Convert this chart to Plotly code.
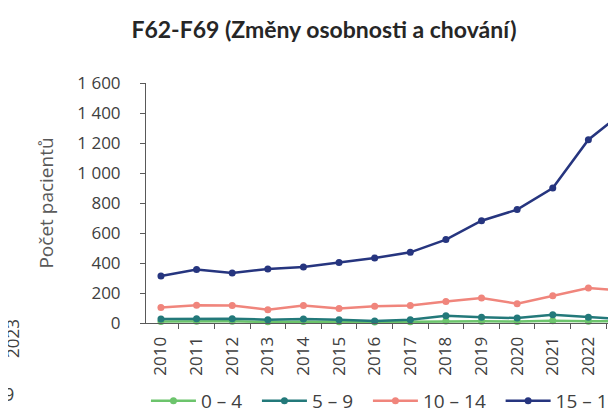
import plotly.graph_objects as go

years = [str(y) for y in range(2010, 2024)]
age_0_4 = [10, 12, 11, 8, 10, 9, 6, 9, 14, 12, 10, 15, 12, 10]
age_5_9 = [27, 29, 29, 22, 27, 22, 13, 22, 48, 38, 33, 55, 38, 25]
age_10_14 = [104, 118, 116, 89, 116, 96, 111, 116, 144, 167, 129, 182, 233, 216]
age_15_19 = [313, 356, 333, 360, 373, 404, 433, 471, 556, 682, 756, 900, 1222, 1411]

series = [
    ('0 – 4', age_0_4, '#6cc46c'),
    ('5 – 9', age_5_9, '#23797a'),
    ('10 – 14', age_10_14, '#f0857c'),
    ('15 – 19', age_15_19, '#26357f'),
]

font_name = 'Open Sans'
text_color = '#404040'
pad = '\u00a0\u00a0'

fig = go.Figure()

for name, values, color in series:
    fig.add_trace(
        go.Scatter(
            x=years,
            y=values,
            name=name + pad,
            mode='lines+markers',
            line=dict(color=color, width=2.5),
            marker=dict(color=color, size=7),
            cliponaxis=False
        )
    )

fig.update_layout(
    width=616,
    height=416,
    margin=dict(l=138, r=0, t=75, b=101, autoexpand=False),
    plot_bgcolor='white',
    paper_bgcolor='white',
    separators=', ',
    font=dict(family=font_name, size=17, color=text_color),
    title=dict(
        text='<b>F62-F69 (Změny osobnosti a chování)</b>',
        xref='container',
        x=316 / 616,
        xanchor='center',
        yref='container',
        y=1 - 22 / 416,
        yanchor='middle',
        font=dict(family='Lato', size=23, color='#262626')
    ),
    showlegend=True,
    legend=dict(
        orientation='h',
        x=-0.0001,
        xanchor='left',
        y=-78 / 240,
        yanchor='middle',
        itemwidth=45,
        font=dict(size=19, color=text_color),
        bgcolor='rgba(0,0,0,0)'
    )
)

fig.update_xaxes(
    type='category',
    range=[-0.42, 13.0],
    tickson='boundaries',
    ticks='outside',
    ticklen=5,
    tickcolor='#595959',
    showline=True,
    linecolor='#595959',
    linewidth=1,
    showgrid=False,
    tickangle=-90,
    ticklabelstandoff=6,
    tickfont=dict(size=17, color=text_color)
)

fig.update_yaxes(
    range=[0, 1600],
    dtick=200,
    tickformat=',d',
    ticks='outside',
    ticklen=5,
    tickcolor='#595959',
    showline=True,
    linecolor='#595959',
    linewidth=1,
    showgrid=False,
    zeroline=False,
    ticklabelstandoff=16,
    tickfont=dict(size=17, color=text_color),
    title=dict(
        text='Počet pacientů',
        standoff=18,
        font=dict(size=19, color='#595959')
    )
)

# fragments of the neighbouring chart on the left edge
fig.add_annotation(
    text='2023', xref='paper', yref='paper',
    x=(-9 - 138) / 478, y=(315 - 352) / 240,
    textangle=-90, showarrow=False,
    font=dict(size=17, color=text_color)
)
fig.add_annotation(
    text='9', xref='paper', yref='paper',
    x=(-6 - 138) / 478, y=(315 - 400) / 240,
    showarrow=False,
    font=dict(size=18, color=text_color)
)

fig.write_html('out.html')
